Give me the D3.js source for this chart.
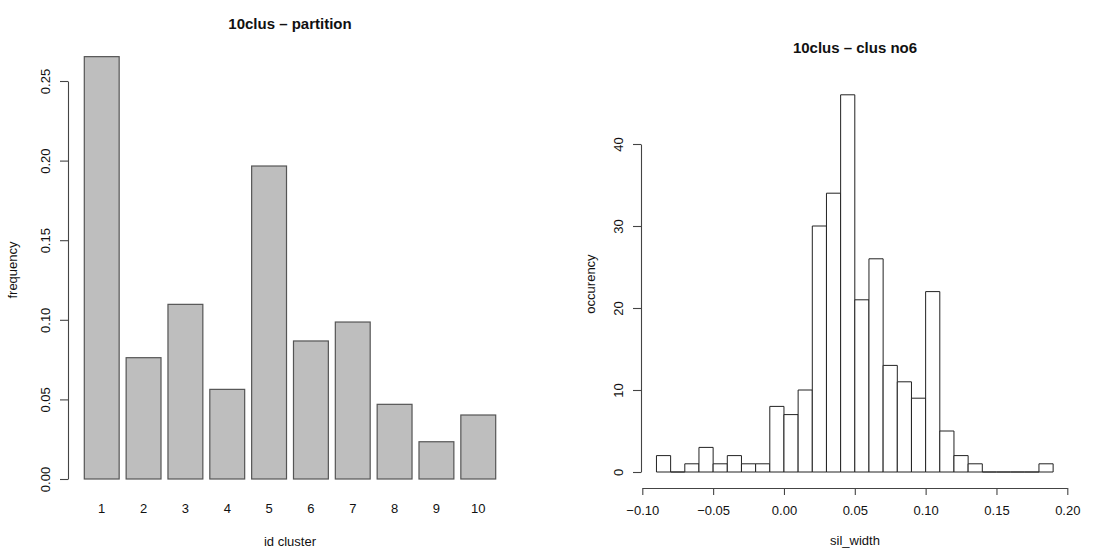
<!DOCTYPE html>
<html>
<head>
<meta charset="utf-8">
<script src="https://cdn.jsdelivr.net/npm/d3@7"></script>
<style>
  body { margin: 0; background: #fff; }
  svg text { font-family: "Liberation Sans", Arial, Helvetica, sans-serif; fill: #111; }
  .axis path, .axis line { stroke: #444; stroke-width: 1.1; }
</style>
</head>
<body>
<div id="chart"></div>
<script>
// Left panel: share of points per cluster
const clusterIds = ["1", "2", "3", "4", "5", "6", "7", "8", "9", "10"];
const clusterFreq = [0.2653, 0.0762, 0.1097, 0.0563, 0.1966, 0.0867, 0.0986, 0.0469, 0.0234, 0.0402];
const freqTicks = [0, 0.05, 0.10, 0.15, 0.20, 0.25];

// Right panel: histogram of silhouette width for cluster 6 (bins of 0.01)
const binStarts = [-0.09, -0.08, -0.07, -0.06, -0.05, -0.04, -0.03, -0.02, -0.01, 0.00,
                   0.01, 0.02, 0.03, 0.04, 0.05, 0.06, 0.07, 0.08, 0.09, 0.10,
                   0.11, 0.12, 0.13, 0.14, 0.15, 0.16, 0.17, 0.18];
const binCounts = [2, 0, 1, 3, 1, 2, 1, 1, 8, 7,
                   10, 30, 34, 46, 21, 26, 13, 11, 9, 22,
                   5, 2, 1, 0, 0, 0, 0, 1];
const binWidth = 0.01;
const silTicks = [-0.10, -0.05, 0.00, 0.05, 0.10, 0.15, 0.20];
const countTicks = [0, 10, 20, 30, 40];

const W = 1116, H = 550;
const svg = d3.select("#chart").append("svg")
    .attr("width", W)
    .attr("height", H);

// rotate y tick labels like base R graphics
function rotateYLabels(g, offset) {
    g.selectAll(".tick text")
        .attr("transform", "rotate(-90)")
        .attr("x", 0)
        .attr("y", -offset)
        .attr("dy", 0)
        .attr("text-anchor", "middle");
}

// ---------- left: barplot ----------
const x1 = d3.scaleBand()
    .domain(clusterIds)
    .range([84.3, 495.7])
    .paddingInner(0.2 / 1.2)
    .paddingOuter(0);

const y1 = d3.scaleLinear()
    .domain([0, 0.25])
    .range([479, 81]);

const left = svg.append("g");

left.selectAll("rect")
    .data(clusterFreq)
    .join("rect")
    .attr("x", (d, i) => x1(clusterIds[i]))
    .attr("y", d => y1(d))
    .attr("width", x1.bandwidth())
    .attr("height", d => y1(0) - y1(d))
    .attr("fill", "#bebebe")
    .attr("stroke", "#555")
    .attr("stroke-width", 1.2);

left.append("g")
    .attr("class", "axis")
    .attr("transform", "translate(68,0)")
    .call(d3.axisLeft(y1).tickValues(freqTicks).tickFormat(d3.format(".2f")).tickSize(8).tickSizeOuter(0))
    .call(g => g.selectAll("text").style("font-size", "13px"))
    .call(g => rotateYLabels(g, 18));

left.append("g")
    .attr("class", "axis")
    .attr("transform", "translate(0,479)")
    .call(d3.axisBottom(x1).tickSize(0).tickPadding(25))
    .call(g => g.select(".domain").remove())
    .call(g => g.selectAll("text").style("font-size", "13px"));

left.append("text")
    .attr("x", 290).attr("y", 29)
    .attr("text-anchor", "middle")
    .style("font-size", "15px").style("font-weight", "bold")
    .text("10clus \u2013 partition");

left.append("text")
    .attr("x", 290).attr("y", 546)
    .attr("text-anchor", "middle")
    .style("font-size", "13px")
    .text("id cluster");

left.append("text")
    .attr("transform", "translate(17,270) rotate(-90)")
    .attr("text-anchor", "middle")
    .style("font-size", "13px")
    .text("frequency");

// ---------- right: histogram ----------
const x2 = d3.scaleLinear()
    .domain([-0.10, 0.20])
    .range([642.3, 1067.3]);

const y2 = d3.scaleLinear()
    .domain([0, 40])
    .range([472, 144]);

const right = svg.append("g");

// paths instead of rects so empty bins still show as a line on the baseline
right.selectAll("path.bin")
    .data(binCounts)
    .join("path")
    .attr("class", "bin")
    .attr("d", (d, i) => {
        const xa = x2(binStarts[i]), xb = x2(binStarts[i] + binWidth);
        const y0 = y2(0), yt = y2(d);
        return `M${xa},${y0}V${yt}H${xb}V${y0}Z`;
    })
    .attr("fill", "#fff")
    .attr("stroke", "#222")
    .attr("stroke-width", 1);

right.append("g")
    .attr("class", "axis")
    .attr("transform", "translate(641,0)")
    .call(d3.axisLeft(y2).tickValues(countTicks).tickSize(8).tickSizeOuter(0))
    .call(g => g.selectAll("text").style("font-size", "13px"))
    .call(g => rotateYLabels(g, 18));

right.append("g")
    .attr("class", "axis")
    .attr("transform", "translate(0,488)")
    .call(d3.axisBottom(x2).tickValues(silTicks).tickFormat(d3.format(".2f")).tickSize(7).tickPadding(11).tickSizeOuter(0))
    .call(g => g.selectAll("text").style("font-size", "13px"));

right.append("text")
    .attr("x", 855).attr("y", 53)
    .attr("text-anchor", "middle")
    .style("font-size", "15px").style("font-weight", "bold")
    .text("10clus \u2013 clus no6");

right.append("text")
    .attr("x", 855).attr("y", 545)
    .attr("text-anchor", "middle")
    .style("font-size", "13px")
    .text("sil_width");

right.append("text")
    .attr("transform", "translate(595,284) rotate(-90)")
    .attr("text-anchor", "middle")
    .style("font-size", "13px")
    .text("occurency");
</script>
</body>
</html>
